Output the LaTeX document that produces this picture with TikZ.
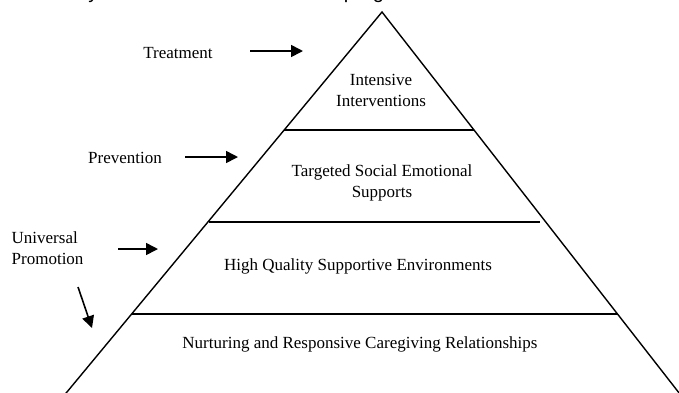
\documentclass[tikz,border=0pt]{standalone}
\usepackage{fontspec}
\setmainfont{Liberation Serif}
\newfontfamily\headfont{Liberation Sans}
\usetikzlibrary{arrows.meta}

\begin{document}
\begin{tikzpicture}[x=1pt, y=-1pt, line width=1.4pt,
    tier/.style={font=\fontsize{17}{21}\selectfont, align=center, inner sep=0pt},
    side/.style={font=\fontsize{17}{21}\selectfont, align=left, inner sep=0pt},
    pointer/.style={-{Triangle[length=12pt,width=12pt]}, line width=1.6pt}]
    \useasboundingbox (0,0) rectangle (679,392);
    % heading, cut off by the page edge
    \node[font=\headfont\fontsize{20}{24}\selectfont, anchor=base west, inner sep=0pt] (head)
      at (52,-2) {Early childhood social emotional programs};
    % the pyramid
    \coordinate (top) at (382,12);
    \coordinate (bl) at (62,398);
    \coordinate (br) at (683,398);
    \draw (bl) -- (top) -- (br);
    \coordinate (a1) at (284,130); \coordinate (b1) at (474,130);
    \coordinate (a2) at (209,222); \coordinate (b2) at (540,222);
    \coordinate (a3) at (132,314); \coordinate (b3) at (618,314);
    \draw (a1) -- (b1);
    \draw (a2) -- (b2);
    \draw (a3) -- (b3);
    \node[tier] (tier1) at (381,90) {Intensive\\Interventions};
    \node[tier] (tier2) at (382,183) {Targeted Social Emotional\\Supports};
    \node[tier] (tier3) at (358,266) {High Quality Supportive Environments};
    \node[tier] (tier4) at (360,344) {Nurturing and Responsive Caregiving Relationships};
    % labels on the left
    \node[side] (treat) at (178,53) {Treatment};
    \node[side] (prev) at (125,158) {Prevention};
    \node[side, anchor=west] (univ) at (11,248) {Universal\\Promotion};
    \coordinate (t0) at (250,51); \coordinate (t1) at (303,51);
    \coordinate (p0) at (185,157); \coordinate (p1) at (238,157);
    \coordinate (u0) at (118,249); \coordinate (u1) at (158,249);
    \coordinate (d0) at (78,287); \coordinate (d1) at (92,328);
    \draw[pointer] (t0) -- (t1);
    \draw[pointer] (p0) -- (p1);
    \draw[pointer] (u0) -- (u1);
    \draw[pointer] (d0) -- (d1);
\end{tikzpicture}
\end{document}
